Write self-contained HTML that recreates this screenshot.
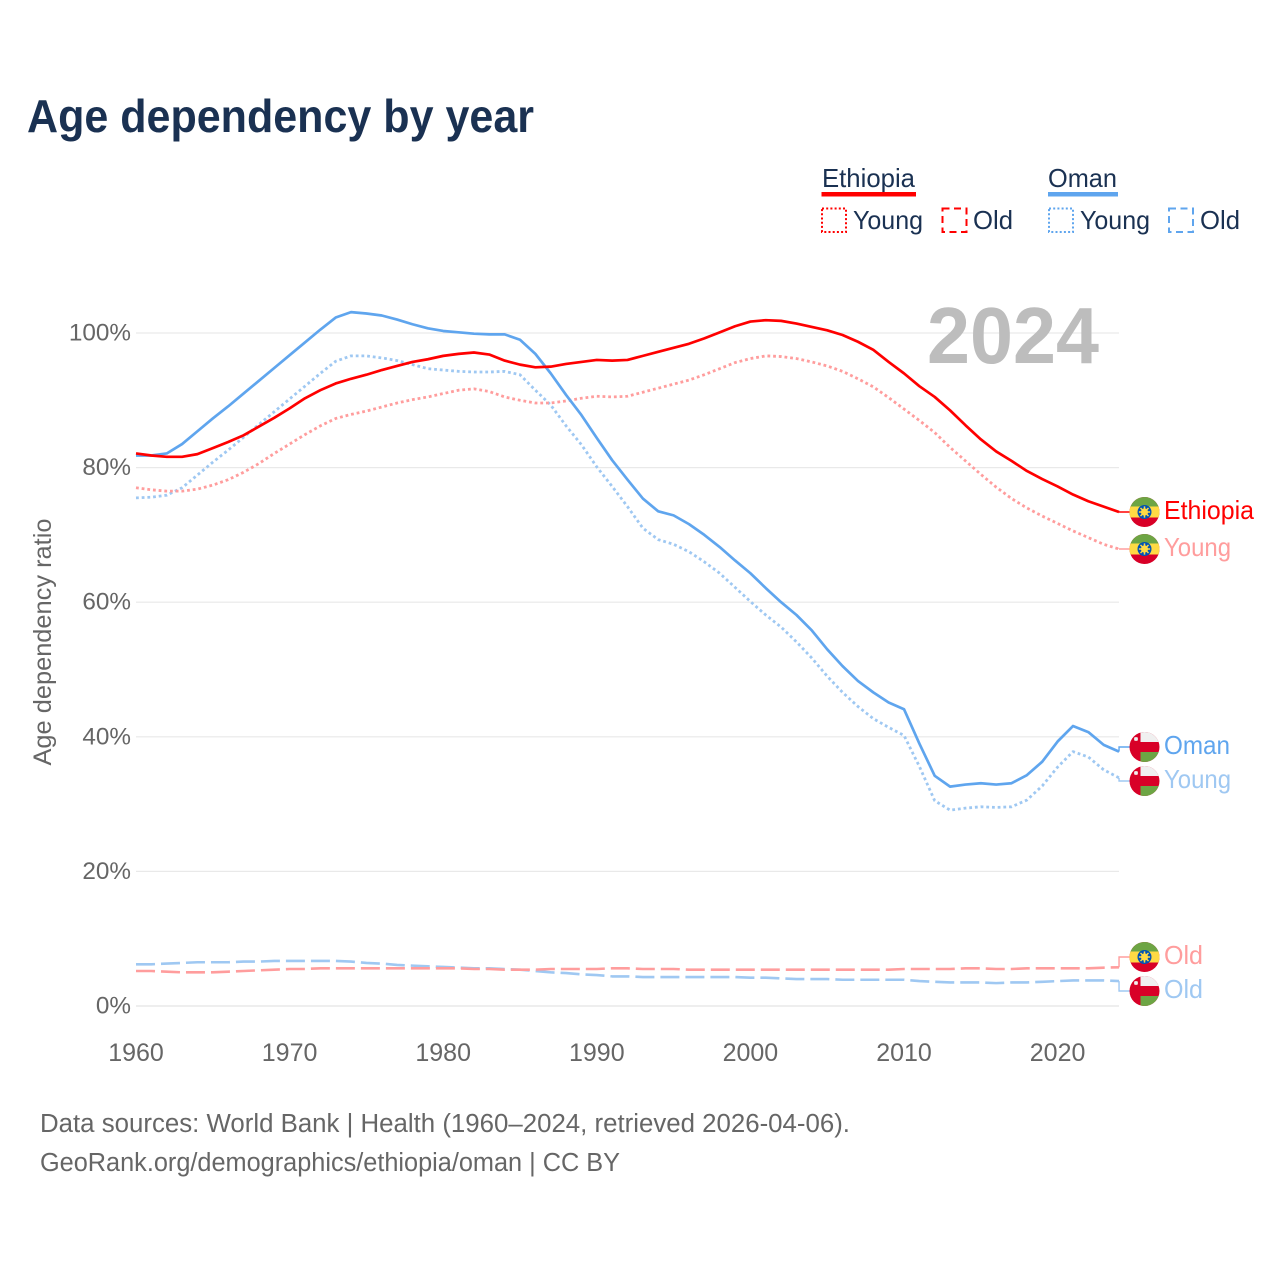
<!DOCTYPE html>
<html lang="en">
<head>
<meta charset="utf-8">
<title>Age dependency by year</title>
<style>
html,body{margin:0;padding:0;background:#fff}
svg{display:block}
text{font-family:"Liberation Sans","DejaVu Sans",sans-serif}
</style>
</head>
<body>
<svg id="chart" xmlns="http://www.w3.org/2000/svg" width="1280" height="1280" viewBox="0 0 1280 1280">
  <defs>
    <clipPath id="flag-clip"><circle cx="0" cy="0" r="15"/></clipPath>
    <g id="flag-eth" clip-path="url(#flag-clip)">
      <rect x="-15" y="-15" width="30" height="30" fill="#d80027"/>
      <rect x="-15" y="-15" width="30" height="10" fill="#6da544"/>
      <rect x="-15" y="-5.5" width="30" height="11" fill="#ffda44"/>
      <circle r="7" fill="#0052b4"/>
      <circle r="3.6" fill="#ffda44"/>
      <path d="M0-5.6L0 5.6M-5.6 0L5.6 0M-4-4L4 4M-4 4L4-4" stroke="#ffda44" stroke-width="1.5"/>
    </g>
    <g id="flag-omn" clip-path="url(#flag-clip)">
      <rect x="-15" y="-15" width="30" height="30" fill="#d80027"/>
      <rect x="-4" y="-15" width="19" height="10" fill="#f0f0f0"/>
      <rect x="-4" y="5" width="19" height="10" fill="#6da544"/>
      <path d="M-8.5-10L-8.5-6M-10.5-8L-6.5-8M-10-9.5L-7-6.5M-10-6.5L-7-9.5" stroke="#f0f0f0" stroke-width="1.2"/>
    </g>
  </defs>

  <rect x="0" y="0" width="1280" height="1280" fill="#ffffff"/>

  <text x="27" y="132" font-size="46" font-weight="700" fill="#1a3152" textLength="507" lengthAdjust="spacingAndGlyphs">Age dependency by year</text>

  <g font-size="26" fill="#1a3152">
    <text x="822" y="187" textLength="93" lengthAdjust="spacingAndGlyphs">Ethiopia</text>
    <rect x="821.5" y="192" width="94.5" height="4.5" fill="#ff0000"/>
    <rect x="822" y="208.5" width="24" height="23.5" fill="none" stroke="#ff0000" stroke-width="2" stroke-dasharray="2 2.2"/>
    <text x="853" y="229" textLength="70" lengthAdjust="spacingAndGlyphs">Young</text>
    <rect x="942.5" y="208.5" width="24" height="23.5" fill="none" stroke="#ff0000" stroke-width="2" stroke-dasharray="7 4.5"/>
    <text x="973" y="229" textLength="40" lengthAdjust="spacingAndGlyphs">Old</text>

    <text x="1048" y="187" textLength="69" lengthAdjust="spacingAndGlyphs">Oman</text>
    <rect x="1048" y="192" width="70" height="4.5" fill="#5fa5ee"/>
    <rect x="1049" y="208.5" width="24" height="23.5" fill="none" stroke="#5fa5ee" stroke-width="2" stroke-dasharray="2 2.2"/>
    <text x="1080" y="229" textLength="70" lengthAdjust="spacingAndGlyphs">Young</text>
    <rect x="1169" y="208.5" width="24" height="23.5" fill="none" stroke="#5fa5ee" stroke-width="2" stroke-dasharray="7 4.5"/>
    <text x="1200" y="229" textLength="40" lengthAdjust="spacingAndGlyphs">Old</text>
  </g>

  <g id="grid"></g>
  <g id="y-ticks"></g>
  <g id="x-ticks"></g>

  <text transform="translate(51,642) rotate(-90)" text-anchor="middle" font-size="25" fill="#666666" textLength="247" lengthAdjust="spacingAndGlyphs">Age dependency ratio</text>

  <text x="927" y="363" font-size="80" font-weight="700" fill="#bdbdbd" textLength="172" lengthAdjust="spacingAndGlyphs">2024</text>

  <g id="series"></g>

  <use href="#flag-eth" x="1144.5" y="512"/>
  <use href="#flag-eth" x="1144.5" y="549"/>
  <use href="#flag-omn" x="1144.5" y="747"/>
  <use href="#flag-omn" x="1144.5" y="781"/>
  <use href="#flag-eth" x="1144.5" y="957"/>
  <use href="#flag-omn" x="1144.5" y="991"/>

  <g font-size="26">
    <text x="1164" y="519" fill="#ff0000" textLength="90" lengthAdjust="spacingAndGlyphs">Ethiopia</text>
    <text x="1164" y="556" fill="#ff9d9d" textLength="67" lengthAdjust="spacingAndGlyphs">Young</text>
    <text x="1164" y="754" fill="#5fa5ee" textLength="66" lengthAdjust="spacingAndGlyphs">Oman</text>
    <text x="1164" y="788" fill="#9fc8f2" textLength="67" lengthAdjust="spacingAndGlyphs">Young</text>
    <text x="1164" y="964" fill="#ff9d9d" textLength="39" lengthAdjust="spacingAndGlyphs">Old</text>
    <text x="1164" y="998" fill="#9fc8f2" textLength="39" lengthAdjust="spacingAndGlyphs">Old</text>
  </g>

  <text x="40" y="1132" font-size="25.5" fill="#666666" textLength="810" lengthAdjust="spacingAndGlyphs">Data sources: World Bank | Health (1960–2024, retrieved 2026-04-06).</text>
  <text x="40" y="1171" font-size="25.5" fill="#666666" textLength="580" lengthAdjust="spacingAndGlyphs">GeoRank.org/demographics/ethiopia/oman | CC BY</text>
</svg>

<script>
const startYear = 1960;
const yTickValues = [0, 20, 40, 60, 80, 100];
const yTickLabels = ['0%', '20%', '40%', '60%', '80%', '100%'];
const xTickValues = [1960, 1970, 1980, 1990, 2000, 2010, 2020];

const ethiopiaTotal = [82.1,81.8,81.6,81.6,82.0,82.9,83.8,84.8,86.1,87.4,88.8,90.3,91.5,92.5,93.2,93.8,94.5,95.1,95.7,96.1,96.6,96.9,97.1,96.8,95.9,95.3,94.9,95.0,95.4,95.7,96.0,95.9,96.0,96.6,97.2,97.8,98.4,99.2,100.1,101.0,101.7,101.9,101.8,101.4,100.9,100.4,99.7,98.7,97.5,95.7,94.0,92.1,90.5,88.5,86.3,84.2,82.4,81.0,79.5,78.3,77.2,76.0,75.0,74.2,73.4];
const ethiopiaYoung = [77.0,76.7,76.5,76.5,76.8,77.4,78.2,79.3,80.6,82.1,83.5,84.9,86.2,87.3,87.9,88.4,89.0,89.6,90.1,90.5,91.0,91.5,91.7,91.3,90.5,90.0,89.6,89.6,89.9,90.3,90.6,90.5,90.6,91.2,91.8,92.4,93.0,93.8,94.7,95.6,96.2,96.6,96.5,96.2,95.7,95.1,94.3,93.2,92.0,90.4,88.7,87.0,85.2,83.0,81.0,79.0,77.1,75.4,74.0,72.8,71.7,70.6,69.6,68.6,67.9];
const ethiopiaOld = [5.2,5.2,5.1,5.0,5.0,5.0,5.1,5.2,5.3,5.4,5.5,5.5,5.6,5.6,5.6,5.6,5.6,5.6,5.6,5.6,5.6,5.6,5.5,5.5,5.4,5.4,5.4,5.5,5.5,5.5,5.5,5.6,5.6,5.5,5.5,5.5,5.4,5.4,5.4,5.4,5.4,5.4,5.4,5.4,5.4,5.4,5.4,5.4,5.4,5.4,5.5,5.5,5.5,5.5,5.6,5.6,5.5,5.5,5.6,5.6,5.6,5.6,5.6,5.7,5.75];
const omanTotal = [81.8,81.8,82.1,83.5,85.4,87.3,89.1,91.0,92.9,94.8,96.7,98.6,100.5,102.3,103.1,102.9,102.6,102.0,101.3,100.7,100.3,100.1,99.9,99.8,99.8,99.0,96.9,94.0,90.8,87.8,84.4,81.1,78.2,75.4,73.5,72.9,71.6,70.0,68.2,66.2,64.3,62.1,60.0,58.1,55.8,53.0,50.5,48.3,46.6,45.1,44.1,39.0,34.2,32.6,32.9,33.1,32.9,33.1,34.3,36.3,39.3,41.6,40.7,38.8,37.8];
const omanYoung = [75.5,75.6,75.9,77.0,78.9,80.8,82.6,84.5,86.4,88.3,90.2,92.1,94.0,95.8,96.6,96.6,96.3,95.9,95.3,94.7,94.5,94.3,94.2,94.2,94.3,93.8,91.5,89.3,86.2,83.4,80.1,77.2,74.2,71.0,69.3,68.6,67.5,66.0,64.3,62.2,60.1,58.1,56.3,54.1,51.7,49.0,46.6,44.5,42.7,41.4,40.2,35.6,30.5,29.1,29.4,29.6,29.5,29.6,30.6,32.7,35.5,37.8,37.0,35.1,33.9];
const omanOld = [6.2,6.2,6.3,6.4,6.5,6.5,6.5,6.6,6.6,6.7,6.7,6.7,6.7,6.7,6.6,6.4,6.3,6.1,6.0,5.9,5.8,5.7,5.6,5.6,5.5,5.4,5.2,5.0,4.9,4.7,4.6,4.4,4.4,4.3,4.3,4.3,4.3,4.3,4.3,4.3,4.2,4.2,4.1,4.0,4.0,4.0,3.9,3.9,3.9,3.9,3.9,3.7,3.6,3.5,3.5,3.5,3.4,3.5,3.5,3.6,3.7,3.8,3.8,3.8,3.7];

const SVG_NS = 'http://www.w3.org/2000/svg';
function xScale(year) { return 136 + (year - 1960) * 15.36; }
function yScale(value) { return 1006 - value * 6.73; }

const gridGroup = document.getElementById('grid');
const yTickGroup = document.getElementById('y-ticks');
const xTickGroup = document.getElementById('x-ticks');
const seriesGroup = document.getElementById('series');

yTickValues.forEach(function (value, i) {
  const line = document.createElementNS(SVG_NS, 'line');
  
  
  line.setAttribute('x1', 136);
  line.setAttribute('x2', 1119);
  line.setAttribute('y1', yScale(value));
  line.setAttribute('y2', yScale(value));
  line.setAttribute('stroke', '#e9e9e9');
  line.setAttribute('stroke-width', value === 0 ? 1.6 : 1.2);
  gridGroup.appendChild(line);

  const label = document.createElementNS(SVG_NS, 'text');
  
  
  label.setAttribute('x', 131);
  label.setAttribute('y', yScale(value) + 7.5);
  label.setAttribute('text-anchor', 'end');
  label.setAttribute('font-size', '24.3');
  label.setAttribute('fill', '#666666');
  label.textContent = yTickLabels[i];
  yTickGroup.appendChild(label);
});

xTickValues.forEach(function (year) {
  const label = document.createElementNS(SVG_NS, 'text');
  
  
  label.setAttribute('x', xScale(year));
  label.setAttribute('y', 1061);
  label.setAttribute('text-anchor', 'middle');
  label.setAttribute('font-size', '25');
  label.setAttribute('fill', '#666666');
  label.textContent = String(year);
  xTickGroup.appendChild(label);
});

function pathFor(values) {
  return values.map(function (v, i) {
    return (i ? 'L' : 'M') + xScale(startYear + i).toFixed(2) + ' ' + yScale(v).toFixed(2);
  }).join('');
}

function drawSeries(values, name, color, width, dash, labelY) {
  const path = document.createElementNS(SVG_NS, 'path');
  
  
  path.setAttribute('d', pathFor(values));
  path.setAttribute('fill', 'none');
  path.setAttribute('stroke', color);
  path.setAttribute('stroke-width', width);
  path.setAttribute('stroke-linejoin', 'round');
  if (dash) path.setAttribute('stroke-dasharray', dash);
  seriesGroup.appendChild(path);

  const endX = xScale(startYear + values.length - 1);
  const endY = yScale(values[values.length - 1]);
  const connector = document.createElementNS(SVG_NS, 'path');
  
  
  connector.setAttribute('d', 'M' + endX + ' ' + endY + 'L' + endX + ' ' + labelY + 'L1131 ' + labelY);
  connector.setAttribute('fill', 'none');
  connector.setAttribute('stroke', color);
  connector.setAttribute('stroke-width', 1.4);
  seriesGroup.appendChild(connector);
}

drawSeries(omanOld, 'oman-old-line', '#9fc8f2', 2.6, '19 6', 991);
drawSeries(ethiopiaOld, 'ethiopia-old-line', '#ff9d9d', 2.6, '19 6', 957);
drawSeries(omanYoung, 'oman-young-line', '#9fc8f2', 2.8, '2.8 2.9', 781);
drawSeries(ethiopiaYoung, 'ethiopia-young-line', '#ff9d9d', 2.8, '2.8 2.9', 549);
drawSeries(omanTotal, 'oman-total-line', '#5fa5ee', 2.7, '', 747);
drawSeries(ethiopiaTotal, 'ethiopia-total-line', '#ff0000', 2.7, '', 512);
</script>
</body>
</html>
